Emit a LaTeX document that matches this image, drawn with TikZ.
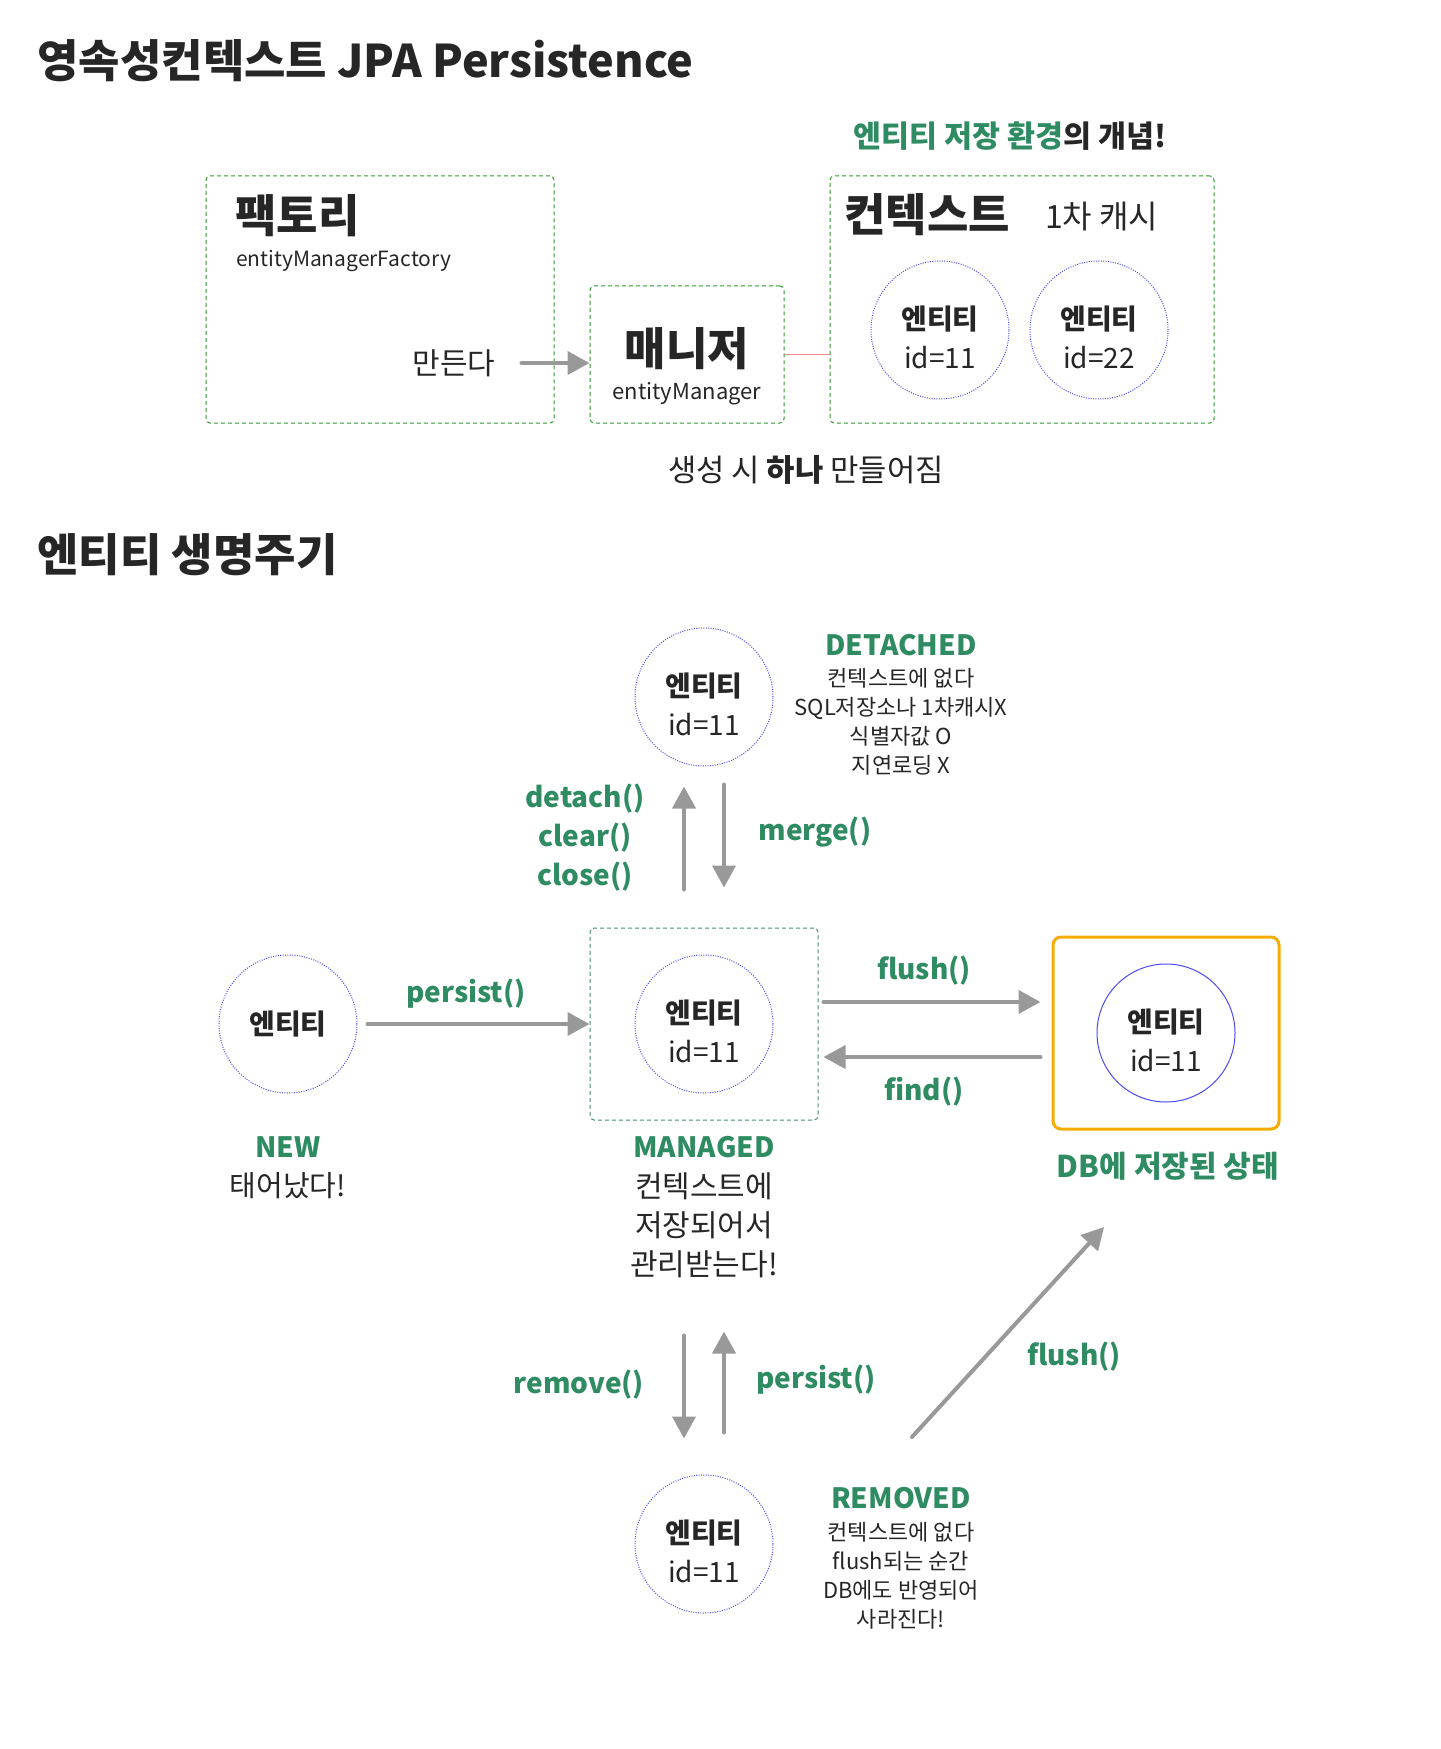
\documentclass[tikz,border=0pt]{standalone}
\usepackage{fontspec}
\setmainfont{Noto Sans CJK KR}
\newfontfamily\heavyfont{Noto Sans CJK KR Black}
\usetikzlibrary{positioning,calc,fit,arrows.meta}
\definecolor{ink}{HTML}{262626}
\definecolor{jade}{HTML}{2E8B62}
\definecolor{boxgreen}{HTML}{2E9A2E}
\definecolor{mgteal}{HTML}{4A8C74}
\definecolor{dotblue}{HTML}{4A4AF5}
\definecolor{arrgray}{HTML}{999999}
\definecolor{dborange}{HTML}{F6AC00}
\definecolor{pinkline}{HTML}{F28A8A}
\newcommand*{\hdr}[1]{{\heavyfont\fontsize{22.5}{26}\selectfont #1}}
\newcommand*{\fs}[1]{\fontsize{#1}{#1}\selectfont}
% Entity text inside a circle, pushed a little down
\newcommand*{\entity}[1]{{\rule{0pt}{19pt}\bfseries 엔티티}\\id=#1}
\tikzset{
  ctxbox/.style={draw=boxgreen,line width=0.5pt,dash pattern=on 2pt off 1.5pt,
                 rounded corners=2pt,inner sep=0pt},
  mgbox/.style={draw=mgteal,line width=0.5pt,dash pattern=on 2pt off 1.5pt,
                rounded corners=2pt,inner sep=0pt},
  ent/.style={circle,draw=dotblue,line width=0.5pt,dash pattern=on 0.5pt off 0.7pt,
              minimum size=69pt,inner sep=0pt,align=center,
              font=\fontsize{14}{19.5}\selectfont},
  flow/.style={draw=arrgray,line width=2pt,line cap=round,
               -{Triangle[length=11pt,width=11.5pt]}},
  lbl/.style={text=jade,font=\fontsize{14}{19.5}\selectfont\bfseries,align=center},
  note/.style={align=center,font=\fontsize{11}{14.5}\selectfont},
}

\begin{document}
\begin{tikzpicture}[x=0.5pt,y=-0.5pt,every node/.append style={text=ink}]
\useasboundingbox (0,0) rectangle (1440,1749);
% Page titles
\node[anchor=west,inner sep=0pt] (title) at (37,61) {\hdr{영속성컨텍스트 JPA Persistence}};
\node[anchor=west,inner sep=0pt] (cycle) at (37,555) {\hdr{엔티티 생명주기}};
% Factory box on the left
\node[ctxbox,fit={(206,176) (554,423)}] (factory) {};
\node[anchor=west,inner sep=0pt] (factname) at (235,216) {\hdr{팩토리}};
\node[anchor=west,font=\fs{10.5}] (factsub) at (229,261) {entityManagerFactory};
\node[font=\fs{15}] (make) at (454,363) {만든다};
% Manager box in the middle
\node[ctxbox,fit={(590,286) (784,423)}] (manager) {};
\node (mgrname) at (687,349) {\hdr{매니저}};
\node[font=\fs{11}] (mgrsub) at (687,394) {entityManager};
\node[font=\fs{15.4}] (once) at (806,470) {생성 시 {\bfseries 하나} 만들어짐};
% Context box with the first level cache
\node[ctxbox,fit={(830,176) (1214,423)}] (context) {};
\node[anchor=west,inner sep=0pt] (ctxname) at (844,215) {\hdr{컨텍스트}};
\node[anchor=west,font=\fs{16}] (cache) at (1038,217) {1차 캐시};
\node[font=\fs{15.2}\bfseries] (concept) at (1010,136) {\textcolor{jade}{엔티티 저장 환경}의 개념!};
\node[ent] (c11) at (940,330) {\entity{11}};
\node[ent] (c22) at (1099,330) {\entity{22}};
\draw[flow,shorten <=9.5pt] (make.east) -- (make.east -| manager.west);
\draw[pinkline,line width=0.5pt] (manager.east) -- (manager.east -| context.west);
% Lifecycle: detached state on top
\node[ent] (det) at (704,697) {\entity{11}};
\node[lbl] (detname) at (901,645) {DETACHED};
\node[note] (detnote) at (901,722) {컨텍스트에 없다\\SQL저장소나 1차캐시X\\식별자값 O\\지연로딩 X};
% Lifecycle: new and managed states
\node[ent] (new) at (288,1024) {\bfseries 엔티티};
\node[lbl] (newname) at (288,1147) {NEW};
\node[font=\fs{14.5}] (newnote) at (288,1186) {태어났다!};
\node[mgbox,fit={(590,928) (818,1120)}] (mbox) {};
\node[ent] (man) at (704,1024) {\entity{11}};
\node[lbl] (manname) at (704,1147) {MANAGED};
\node[align=center,font=\fontsize{15}{19.5}\selectfont] (mannote) at (704,1225) {컨텍스트에\\저장되어서\\관리받는다!};
% Lifecycle: database
\node[draw=dborange,line width=1.5pt,rounded corners=4pt,inner sep=0pt,
      fit={(1053,937) (1279,1129)}] (dbox) {};
\node[ent,solid,draw=dotblue] (db) at (1166,1033) {\entity{11}};
\node[lbl,font=\fs{15}\bfseries] (dbname) at (1168,1166) {DB에 저장된 상태};
% Lifecycle: removed state at the bottom
\node[ent] (rm) at (704,1544) {\entity{11}};
\node[lbl] (rmname) at (901,1498) {REMOVED};
\node[note] (rmnote) at (901,1576) {컨텍스트에 없다\\flush되는 순간\\DB에도 반영되어\\사라진다!};
% Transitions between the states
\draw[flow,shorten <=19pt,shorten >=10pt] ([xshift=-10pt]mbox.north) -- ([xshift=-10pt]det.south);
\draw[flow,shorten <=9pt,shorten >=20pt] ([xshift=10pt]det.south) -- ([xshift=10pt]mbox.north);
\node[lbl] (detach) at (585,838) {detach()\\clear()\\close()};
\node[lbl] (merge) at (815,832) {merge()};
\draw[flow,shorten <=5pt] (new.east) -- (mbox.west);
\node[lbl] (persist) at (466,994) {persist()};
\draw[flow,shorten <=2.5pt,shorten >=5.5pt] ([yshift=11pt]mbox.east) -- ([yshift=11pt]mbox.east -| dbox.west);
\draw[flow,shorten <=5.5pt,shorten >=2.5pt] ([yshift=-16.5pt]mbox.east -| dbox.west) -- ([yshift=-16.5pt]mbox.east);
\node[lbl] (flush) at (924,971) {flush()};
\node[lbl] (find) at (924,1092) {find()};
\draw[flow,shorten <=107.5pt,shorten >=18pt] ([xshift=-10pt]mbox.south) -- ([xshift=-10pt]rm.north);
\draw[flow,shorten <=21pt,shorten >=105.5pt] ([xshift=10pt]rm.north) -- ([xshift=10pt]mbox.south);
\node[lbl] (remove) at (579,1385) {remove()};
\node[lbl] (persist2) at (816,1380) {persist()};
% Flush straight from removed to the database
\coordinate (rmflush) at (912,1437);
\coordinate (dbflush) at (1104,1227);
\draw[flow] (rmflush) -- (dbflush);
\node[lbl] (flush2) at (1074,1357) {flush()};
\end{tikzpicture}
\end{document}
